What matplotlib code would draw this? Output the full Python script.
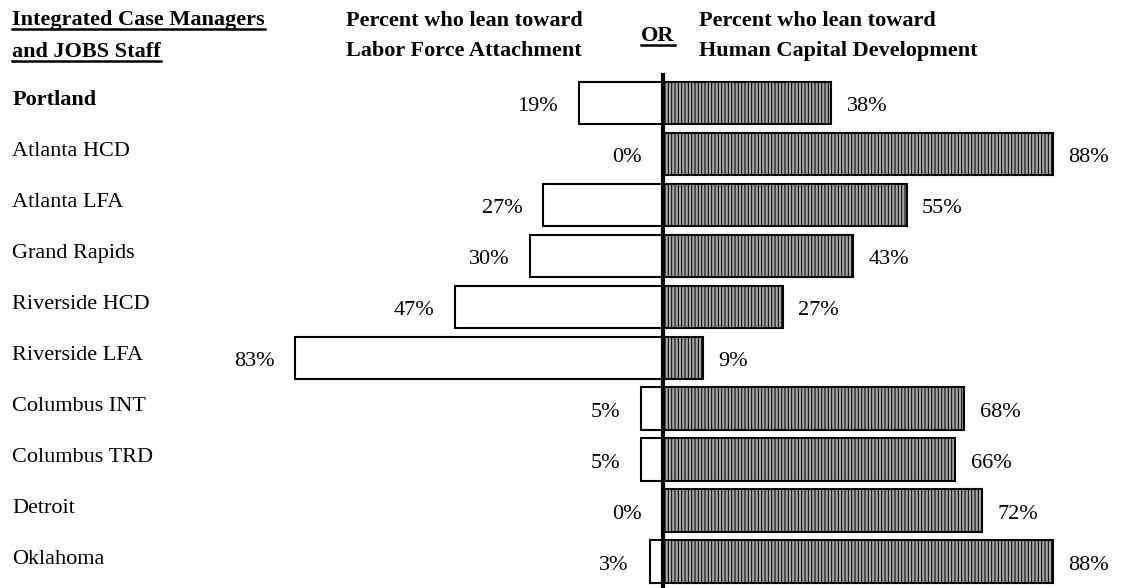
import matplotlib
matplotlib.use("Agg")
import matplotlib.pyplot as plt
from matplotlib.lines import Line2D
import numpy as np

plt.rcParams['font.family'] = ['Liberation Serif', 'DejaVu Serif']
plt.rcParams['hatch.linewidth'] = 0.75
plt.rcParams['hatch.color'] = '#303030'

# data
sites = ['Portland', 'Atlanta HCD', 'Atlanta LFA', 'Grand Rapids', 'Riverside HCD',
         'Riverside LFA', 'Columbus INT', 'Columbus TRD', 'Detroit', 'Oklahoma']
lfa = [19, 0, 27, 30, 47, 83, 5, 5, 0, 3]
hcd = [38, 88, 55, 43, 27, 9, 68, 66, 72, 88]

W, H = 1121, 588
fig = plt.figure(figsize=(W / 100, H / 100), dpi=100)
ax = fig.add_axes([0, 0, 1, 1])

# pixel layout: zero line at x=663, ~4.43 px per percent; rows 50.94 px apart
x0, ppp = 663, 4.43
y0, step = 103, 50.94
ax.set_xlim(-x0 / ppp, (W - x0) / ppp)
ax.set_ylim((H - y0) / step, -y0 / step)
ax.axis('off')

y = np.arange(len(sites))
ax.barh(y, [-v for v in lfa], height=0.83, color='white', edgecolor='black', linewidth=1.5)
ax.barh(y, hcd, height=0.83, color='#a8a8a8', edgecolor='black', linewidth=1.5,
        hatch='|||||')

ax.axvline(0, ymin=0, ymax=1 - 75 / H, color='black', linewidth=3, zorder=5)

for i in range(len(sites)):
    ax.annotate(f'{lfa[i]}%', (-lfa[i], i), xytext=(-15, -6), textcoords='offset points',
                ha='right', va='baseline', fontsize=16)
    ax.annotate(f'{hcd[i]}%', (hcd[i], i), xytext=(11, -6), textcoords='offset points',
                ha='left', va='baseline', fontsize=16)
    ax.annotate(sites[i], (-x0 / ppp, i), xytext=(9, -1.5), textcoords='offset points',
                ha='left', va='baseline', fontsize=16,
                fontweight='bold' if i == 0 else 'normal')


def ftext(x, yb, s, underline=False, **kw):
    t = fig.text(x / W, 1 - yb / H, s, ha='left', va='baseline', fontsize=16,
                 fontweight='bold', **kw)
    if underline:
        fig.canvas.draw()
        bb = t.get_window_extent()
        yl = H - yb - 4
        fig.add_artist(Line2D([bb.x0 / W, bb.x1 / W], [yl / H, yl / H],
                              color='black', linewidth=1.8,
                              transform=fig.transFigure))
    return t


ftext(12, 25, 'Integrated Case Managers', underline=True)
ftext(12, 57, 'and JOBS Staff', underline=True)
ftext(346, 26, 'Percent who lean toward')
ftext(346, 56, 'Labor Force Attachment')
ftext(641, 41, 'OR', underline=True)
ftext(699, 26, 'Percent who lean toward')
ftext(699, 56, 'Human Capital Development')

fig.savefig('out.png', dpi=100)
